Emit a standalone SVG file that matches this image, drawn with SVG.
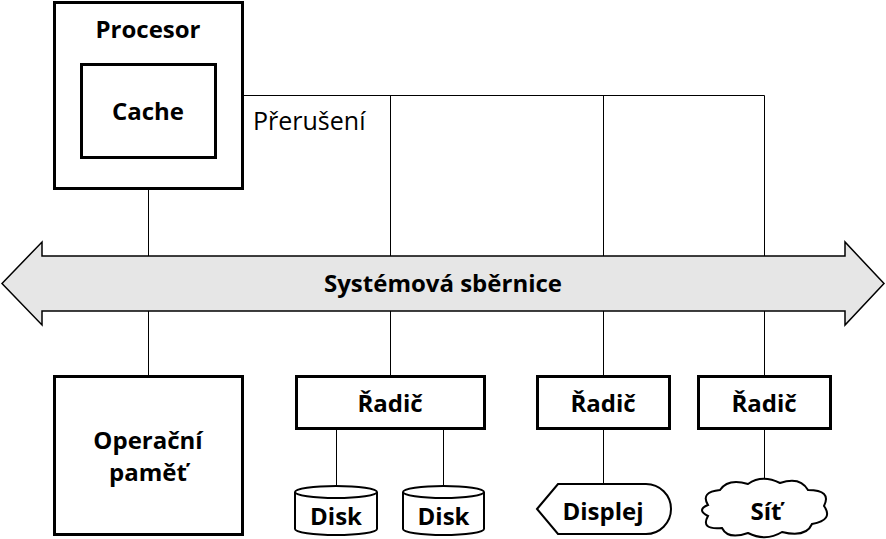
<svg xmlns="http://www.w3.org/2000/svg" width="886" height="539" viewBox="0 0 886 539">
<style>
.box{fill:#fff;stroke:#000;stroke-width:3}
.shp{fill:#fff;stroke:#000;stroke-width:2}
.ln{fill:none;stroke:#000;stroke-width:1}
.t{font-family:"Open Sans","Noto Sans",sans-serif;font-size:24px;font-weight:bold;text-anchor:middle;fill:#000}
.r{font-family:"Open Sans","Noto Sans",sans-serif;font-size:25px;fill:#000}
</style>
<rect width="886" height="539" fill="#fff"/>
<g id="connectors">
<path class="ln" d="M242 95.5H764.5M390.5 95.5V256M603.5 95.5V256M764.5 95.5V256"/>
<path class="ln" d="M148.5 188V256M148.5 311V376M390.5 311V376M603.5 311V376M764.5 311V376"/>
<path class="ln" d="M336.5 429V486M443.5 429V486M603.5 429V484M764.5 429V481"/>
</g>
<g id="bus">
<path d="M2 283.5L42 242V256H845V242L884 283.5L845 325V311H42V325Z" fill="#e6e6e6" stroke="#000" stroke-width="1.5"/>
<text class="t" x="443" y="292">Systémová sběrnice</text>
</g>
<g id="procesor">
<rect class="box" x="54.5" y="2.5" width="188" height="186"/>
<text class="t" x="148" y="38">Procesor</text>
</g>
<g id="cache">
<rect class="box" x="81.5" y="64.5" width="134" height="93"/>
<text class="t" x="148" y="120">Cache</text>
</g>
<g id="preruseni">
<text class="r" x="253" y="130">Přerušení</text>
</g>
<g id="pamet">
<rect class="box" x="54.5" y="376.5" width="188" height="158"/>
<text class="t" x="148" y="449">Operační</text>
<text class="t" x="148" y="481">paměť</text>
</g>
<g id="radic1">
<rect class="box" x="296.5" y="376.5" width="188" height="52"/>
<text class="t" x="390" y="412">Řadič</text>
</g>
<g id="radic2">
<rect class="box" x="537.5" y="376.5" width="132" height="52"/>
<text class="t" x="603" y="412">Řadič</text>
</g>
<g id="radic3">
<rect class="box" x="698.5" y="376.5" width="132" height="52"/>
<text class="t" x="764" y="412">Řadič</text>
</g>
<g id="disk1">
<path class="shp" d="M295 492A41 6 0 0 1 377 492V529A41 6 0 0 1 295 529Z"/>
<path class="shp" fill="none" d="M295 492A41 6 0 0 0 377 492"/>
<text class="t" x="336" y="525">Disk</text>
</g>
<g id="disk2">
<path class="shp" d="M403 492A40.5 6 0 0 1 484 492V529A40.5 6 0 0 1 403 529Z"/>
<path class="shp" fill="none" d="M403 492A40.5 6 0 0 0 484 492"/>
<text class="t" x="443.5" y="525">Disk</text>
</g>
<g id="displej">
<path class="shp" d="M537 509L558 484H646A25 25 0 0 1 646 534H558Z"/>
<text class="t" x="603" y="520">Displej</text>
</g>
<g id="sit">
<path class="shp" d="M708 505Q700 492 720 490Q728 478 748 484Q762 474 780 483Q800 476 808 490Q832 490 824 506Q834 520 812 524Q806 538 782 532Q766 542 748 533Q728 540 722 528Q700 530 708 516Q696 510 708 505Z"/>
<text class="t" x="766" y="520">Síť</text>
</g>
</svg>
